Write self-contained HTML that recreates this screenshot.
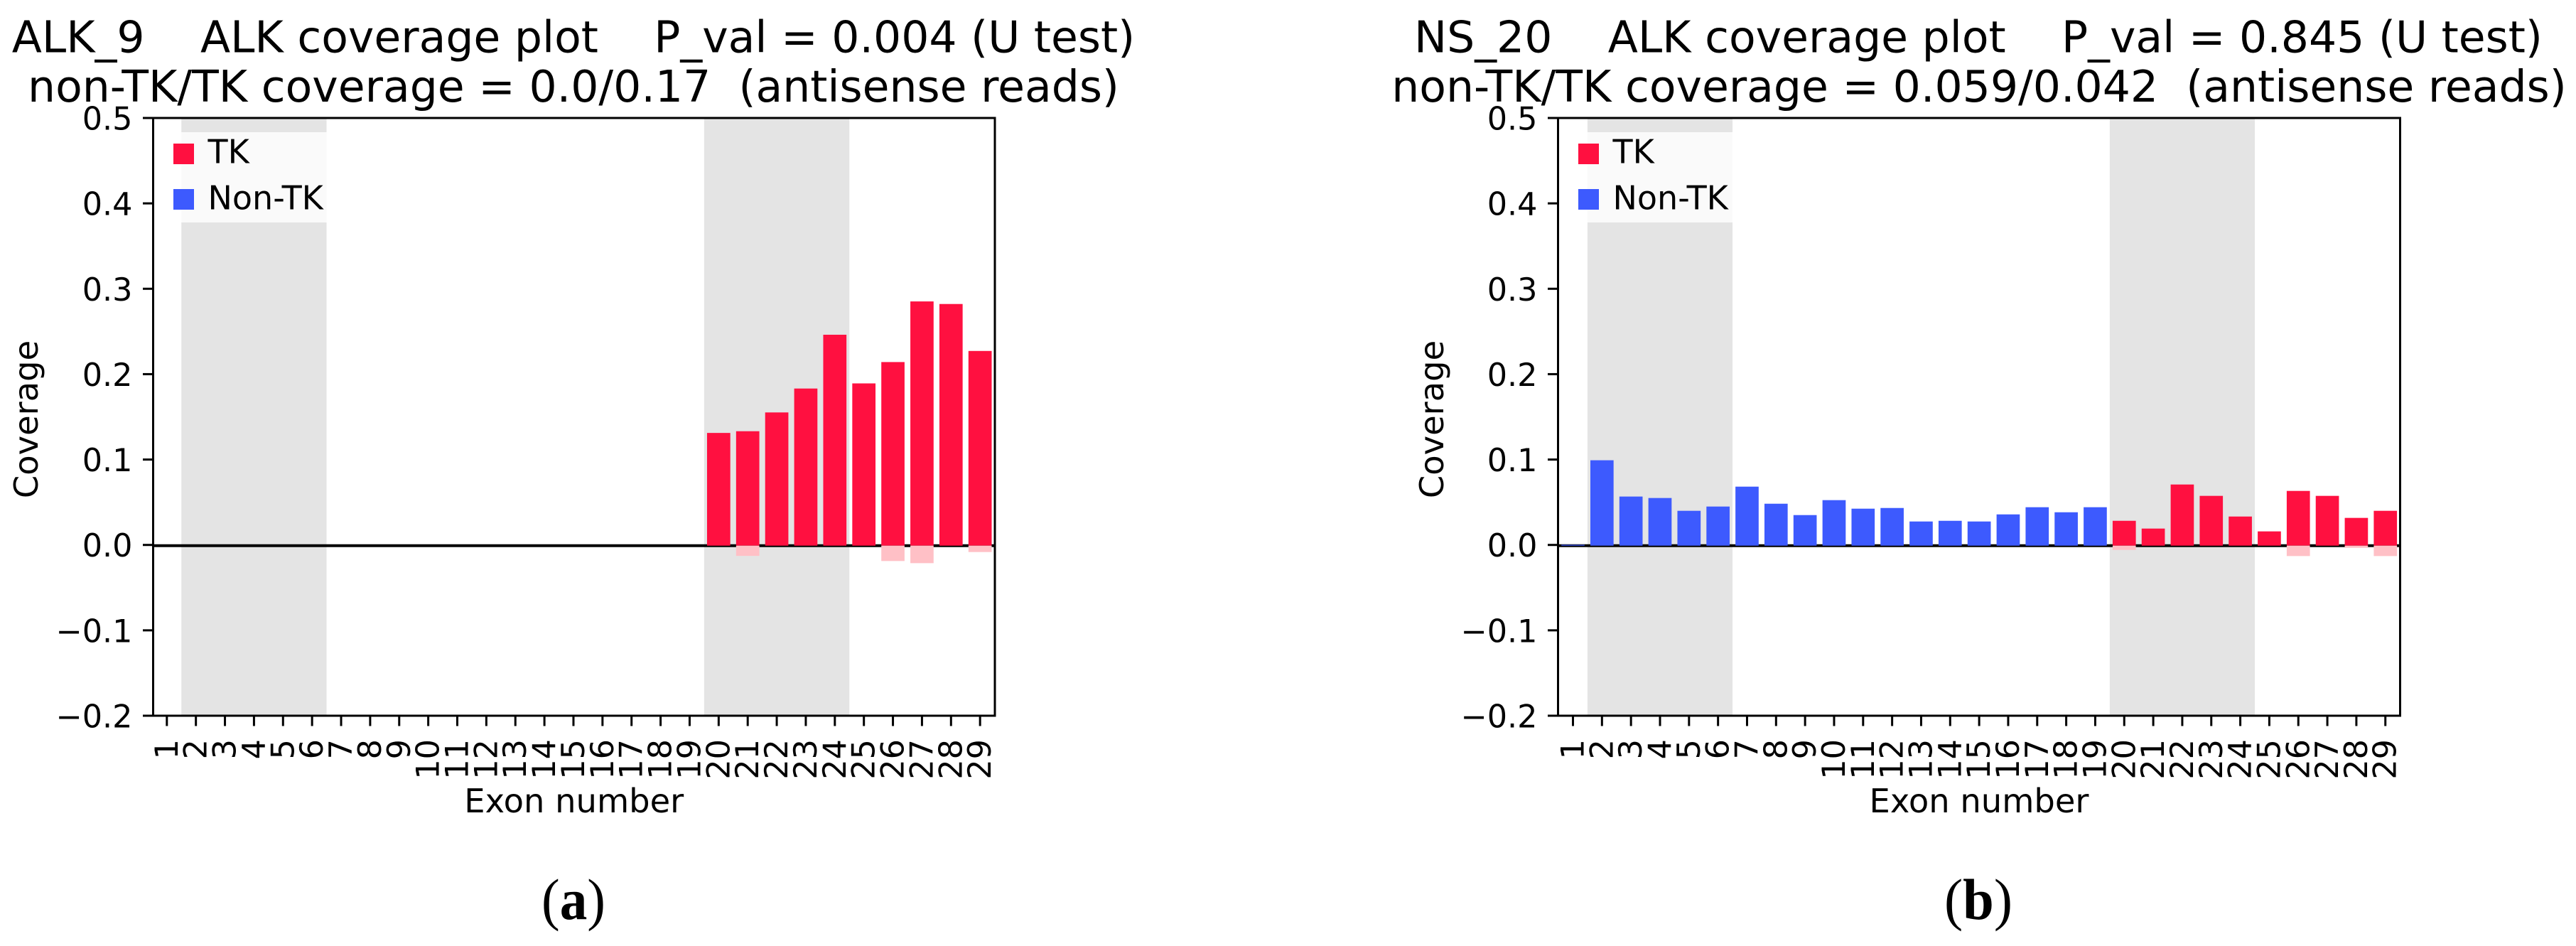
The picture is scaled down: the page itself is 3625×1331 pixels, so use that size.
<!DOCTYPE html>
<html lang="en">
<head>
<meta charset="utf-8">
<title>ALK coverage plots</title>
<style>
html,body{margin:0;padding:0;background:#fff;}
svg{display:block;}
text{font-family:"DejaVu Sans","Liberation Sans",sans-serif;fill:#000;white-space:pre;}
</style>
</head>
<body>
<svg id="figure" xmlns="http://www.w3.org/2000/svg" width="3625" height="1331" viewBox="0 0 3625 1331">
  <rect x="0" y="0" width="3625" height="1331" fill="#ffffff"/>
  <g id="panel-a"></g>
  <g id="panel-b"></g>
  <text x="807" y="73.5" font-size="61.6" text-anchor="middle" xml:space="preserve">ALK_9    ALK coverage plot    P_val = 0.004 (U test)</text>
  <text x="807" y="143" font-size="61.6" text-anchor="middle" xml:space="preserve">non-TK/TK coverage = 0.0/0.17  (antisense reads)</text>
  <text x="2784" y="73.5" font-size="61.6" text-anchor="middle" xml:space="preserve">NS_20    ALK coverage plot    P_val = 0.845 (U test)</text>
  <text x="2785" y="143" font-size="61.6" text-anchor="middle" xml:space="preserve">non-TK/TK coverage = 0.059/0.042  (antisense reads)</text>
  <text x="807" y="1293" font-size="82" text-anchor="middle" textLength="90" lengthAdjust="spacingAndGlyphs" style="font-family:'Liberation Serif',serif">(<tspan font-weight="bold">a</tspan>)</text>
  <text x="2784" y="1293" font-size="82" text-anchor="middle" textLength="96" lengthAdjust="spacingAndGlyphs" style="font-family:'Liberation Serif',serif">(<tspan font-weight="bold">b</tspan>)</text>
</svg>
<script>
const exons = [1,2,3,4,5,6,7,8,9,10,11,12,13,14,15,16,17,18,19,20,21,22,23,24,25,26,27,28,29];
const yTickValues = [-0.2,-0.1,0.0,0.1,0.2,0.3,0.4,0.5];
const yTickLabels = ["\u22120.2","\u22120.1","0.0","0.1","0.2","0.3","0.4","0.5"];
const firstTkExon = 20;
const shadedExonRanges = [[1.5,6.5],[19.5,24.5]];
const legendLabels = ["TK","Non-TK"];
const panelASense = [0,0,0,0,0,0,0,0,0,0,0,0,0,0,0,0,0,0,0,0.132,0.134,0.156,0.184,0.247,0.19,0.215,0.286,0.283,0.228];
const panelAAntisense = [0,0,0,0,0,0,0,0,0,0,0,0,0,0,0,0,0,0,0,0,0.012,0,0,0,0,0.018,0.0205,0,0.0075];
const panelBSense = [0.001,0.1,0.0575,0.0558,0.0408,0.0458,0.0691,0.0491,0.0358,0.0533,0.0433,0.0441,0.0283,0.0291,0.0283,0.0366,0.045,0.0391,0.045,0.0291,0.02,0.0716,0.0583,0.0341,0.0167,0.0641,0.0583,0.0325,0.0408];
const panelBAntisense = [0,0,0,0,0,0,0,0,0,0,0,0,0,0,0,0,0,0,0,0.005,0,0,0,0,0,0.0122,0,0.0025,0.0122];

const SVG_NS = "http://www.w3.org/2000/svg";
const RED = "#ff1040";
const BLUE = "#3d5afe";
const PINK = "#ffc0c6";
const TOP = 166;
const BOTTOM = 1007;
const Y_MAX = 0.5;
const Y_MIN = -0.2;

function yScale(v) {
  const k = (BOTTOM - TOP) / (Y_MAX - Y_MIN);
  return TOP + (Y_MAX - v) * k + 1;
}

function make(parent, tag, attrs, text) {
  const el = document.createElementNS(SVG_NS, tag);
  for (const key in attrs) el.setAttribute(key, attrs[key]);
  if (text !== undefined) el.textContent = text;
  parent.appendChild(el);
  return el;
}

function drawPanel(groupId, sense, antisense, left, right, firstX, step, ylabelX) {
  const g = document.getElementById(groupId);
  const xScale = function (exon) { return firstX + (exon - 1) * step; };
  const barWidth = step * 0.8;

  shadedExonRanges.forEach(function (range) {
    const shade = make(g, "rect", {x: xScale(range[0]), y: TOP, width: xScale(range[1]) - xScale(range[0]), height: BOTTOM - TOP, fill: "#e4e4e4"});
    
    
  });

  const zero = make(g, "line", {x1: left, x2: right, y1: yScale(0), y2: yScale(0), stroke: "#000", "stroke-width": 4});
  
  

  exons.forEach(function (exon, i) {
    const color = exon >= firstTkExon ? RED : BLUE;
    const x = xScale(exon) - barWidth / 2;
    if (sense[i] > 0) {
      const h = yScale(0) - yScale(sense[i]);
      const bar = make(g, "rect", {x: x, y: yScale(sense[i]), width: barWidth, height: h, fill: color});
      
      
    }
    if (antisense[i] > 0) {
      const h2 = yScale(-antisense[i]) - yScale(0);
      const neg = make(g, "rect", {x: x, y: yScale(0), width: barWidth, height: h2, fill: PINK});
      
      
    }
  });

  const legendBg = make(g, "rect", {x: left + 15, y: 186, width: 255, height: 127, fill: "#ffffff", "fill-opacity": 0.8});
  
  
  legendLabels.forEach(function (label, i) {
    const sy = 202 + i * 64;
    const swatch = make(g, "rect", {x: left + 28.5, y: sy, width: 29, height: 29, fill: i === 0 ? RED : BLUE});
    
    
    const txt = make(g, "text", {x: left + 77, y: 229.5 + i * 65, "font-size": 46}, label);
    
    
  });

  const frame = make(g, "rect", {x: left, y: TOP, width: right - left, height: BOTTOM - TOP, fill: "none", stroke: "#000", "stroke-width": 3});
  
  

  yTickValues.forEach(function (v, i) {
    const y = yScale(v) - 1;
    const tick = make(g, "line", {x1: left - 14.5, x2: left, y1: y, y2: y, stroke: "#000", "stroke-width": 3});
    
    
    const lab = make(g, "text", {x: left - 29, y: y + 16.5, "font-size": 44.5, "text-anchor": "end"}, yTickLabels[i]);
    
    
  });

  exons.forEach(function (exon) {
    const tx = xScale(exon);
    const tick = make(g, "line", {x1: tx, x2: tx, y1: BOTTOM, y2: BOTTOM + 14.5, stroke: "#000", "stroke-width": 3});
    
    
    const lab = make(g, "text", {x: 0, y: 0, "font-size": 44.5, "text-anchor": "end", transform: "translate(" + (tx + 15) + " 1040) rotate(-90)"}, String(exon));
    
    
  });

  const xTitle = make(g, "text", {x: (left + right) / 2, y: 1143, "font-size": 46.4, "text-anchor": "middle"}, "Exon number");
  
  

  const yTitle = make(g, "text", {x: 0, y: 0, "font-size": 46.4, "text-anchor": "middle", transform: "translate(" + ylabelX + " 590) rotate(-90)"}, "Coverage");
  
  
}

drawPanel("panel-a", panelASense, panelAAntisense, 215.5, 1400, 234.8, 40.87, 53);
drawPanel("panel-b", panelBSense, panelBAntisense, 2192.5, 3377.5, 2213.5, 40.83, 2031);
</script>
</body>
</html>
